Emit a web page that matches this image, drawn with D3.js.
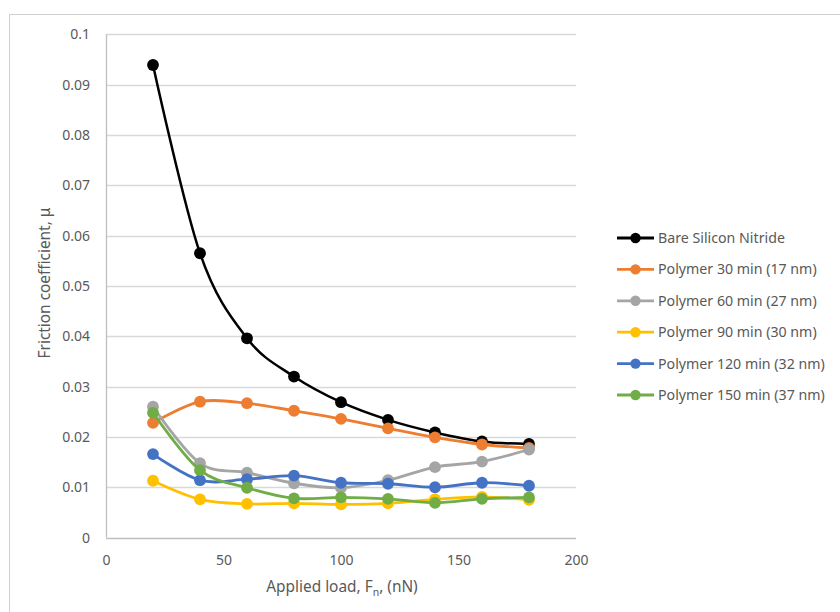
<!DOCTYPE html>
<html><head><meta charset="utf-8">
<script src="https://cdn.jsdelivr.net/npm/d3@7"></script>
<style>body{margin:0;background:#fff}svg{display:block}</style>
</head><body>
<svg id="c" width="840" height="612"></svg>
<script>
const loads = [20,40,60,80,100,120,140,160,180];
const seriesNames = ["Bare Silicon Nitride","Polymer 30 min (17 nm)","Polymer 60 min (27 nm)","Polymer 90 min (30 nm)","Polymer 120 min (32 nm)","Polymer 150 min (37 nm)"];
const bareSiN   = [0.0939,0.0565,0.0396,0.0320,0.0269,0.0234,0.0209,0.0191,0.0186];
const poly30    = [0.0228,0.0270,0.0267,0.0252,0.0236,0.0217,0.0199,0.0185,0.0178];
const poly60    = [0.0260,0.0148,0.0129,0.0108,0.0099,0.0114,0.0140,0.0151,0.0175];
const poly90    = [0.0113,0.0076,0.0067,0.0068,0.0066,0.0068,0.0076,0.0081,0.0075];
const poly120   = [0.0166,0.0114,0.0116,0.0123,0.0109,0.0107,0.0100,0.0109,0.0103];
const poly150   = [0.0248,0.0134,0.0099,0.0078,0.0080,0.0077,0.0069,0.0077,0.0080];
const colors = ["#000000","#ED7D31","#A5A5A5","#FFC000","#4472C4","#70AD47"];
const xTicks = [0,50,100,150,200];
const yTicks = [0,0.01,0.02,0.03,0.04,0.05,0.06,0.07,0.08,0.09,0.1];

const allSeries = [bareSiN,poly30,poly60,poly90,poly120,poly150];
const svg = d3.select("#c");
const font = "'Noto Sans', 'Open Sans', sans-serif";
const txt = "#595959";

svg.append("rect").attr("x",9.5).attr("y",14.5).attr("width",840).attr("height",620)
  .attr("fill","#fff").attr("stroke","#d0d0d0").attr("stroke-width",1);

const x = d3.scaleLinear().domain([0,200]).range([106,576]);
const y = d3.scaleLinear().domain([0,0.1]).range([537.6,34.3]);

// gridlines
svg.append("g").selectAll("line").data(yTicks.slice(1)).join("line")
  .attr("x1",x(0)).attr("x2",x(200))
  .attr("y1",d=>Math.round(y(d))+0.5).attr("y2",d=>Math.round(y(d))+0.5)
  .attr("stroke","#d9d9d9").attr("stroke-width",1.3);

// axes lines
svg.append("line").attr("x1",x(0)).attr("x2",x(200)).attr("y1",Math.round(y(0))+0.5).attr("y2",Math.round(y(0))+0.5)
  .attr("stroke","#bfbfbf").attr("stroke-width",1.3);
svg.append("line").attr("x1",Math.round(x(0))+0.5).attr("x2",Math.round(x(0))+0.5).attr("y1",y(0)).attr("y2",y(0.1))
  .attr("stroke","#bfbfbf").attr("stroke-width",1.3);

// y tick labels
const yAxis = d3.axisLeft(y).tickValues(yTicks).tickFormat(d=>d===0?"0":d3.format(".2~f")(d)).tickSize(0).tickPadding(16);
const gy = svg.append("g").attr("transform",`translate(${x(0)},0)`).call(yAxis);
gy.select(".domain").remove();
gy.selectAll("text").attr("font-family",font).attr("font-size",14).attr("fill",txt);

const xAxis = d3.axisBottom(x).tickValues(xTicks).tickFormat(d3.format("d")).tickSize(0).tickPadding(17);
const gx = svg.append("g").attr("transform",`translate(0,${y(0)})`).call(xAxis);
gx.select(".domain").remove();
gx.selectAll("text").attr("font-family",font).attr("font-size",14).attr("fill",txt);

// axis titles
svg.append("text").attr("transform","translate(50,283) rotate(-90)").attr("text-anchor","middle")
  .attr("font-family",font).attr("font-size",15.4).attr("fill",txt).text("Friction coefficient, μ");
const xt = svg.append("text").attr("x",342).attr("y",592).attr("text-anchor","middle")
  .attr("font-family",font).attr("font-size",15.4).attr("fill",txt);
xt.append("tspan").text("Applied load, F");
xt.append("tspan").attr("font-size",10.5).attr("dy",4).text("n");
xt.append("tspan").attr("dy",-4).text(", (nN)");

// series
const line = d3.line().x((d,i)=>x(loads[i])).y(d=>y(d)).curve(d3.curveCatmullRom.alpha(0));
allSeries.forEach((s,k)=>{
  const g = svg.append("g");
  g.append("path").attr("d",line(s)).attr("fill","none").attr("stroke",colors[k]).attr("stroke-width",k===0?2.5:2.8);
  g.selectAll("circle").data(s).join("circle").attr("cx",(d,i)=>x(loads[i])).attr("cy",d=>y(d))
    .attr("r",5.9).attr("fill",colors[k]);
});

// legend
const lg = svg.append("g");
seriesNames.forEach((n,k)=>{
  const yy = 238 + k*31.4;
  lg.append("line").attr("x1",617).attr("x2",654).attr("y1",yy).attr("y2",yy).attr("stroke",colors[k]).attr("stroke-width",2.8);
  lg.append("circle").attr("cx",635.5).attr("cy",yy).attr("r",5.2).attr("fill",colors[k]);
  lg.append("text").attr("x",658).attr("y",yy+5).attr("font-family",font).attr("font-size",14.2).attr("fill",txt).text(n);
});
</script>
</body></html>
